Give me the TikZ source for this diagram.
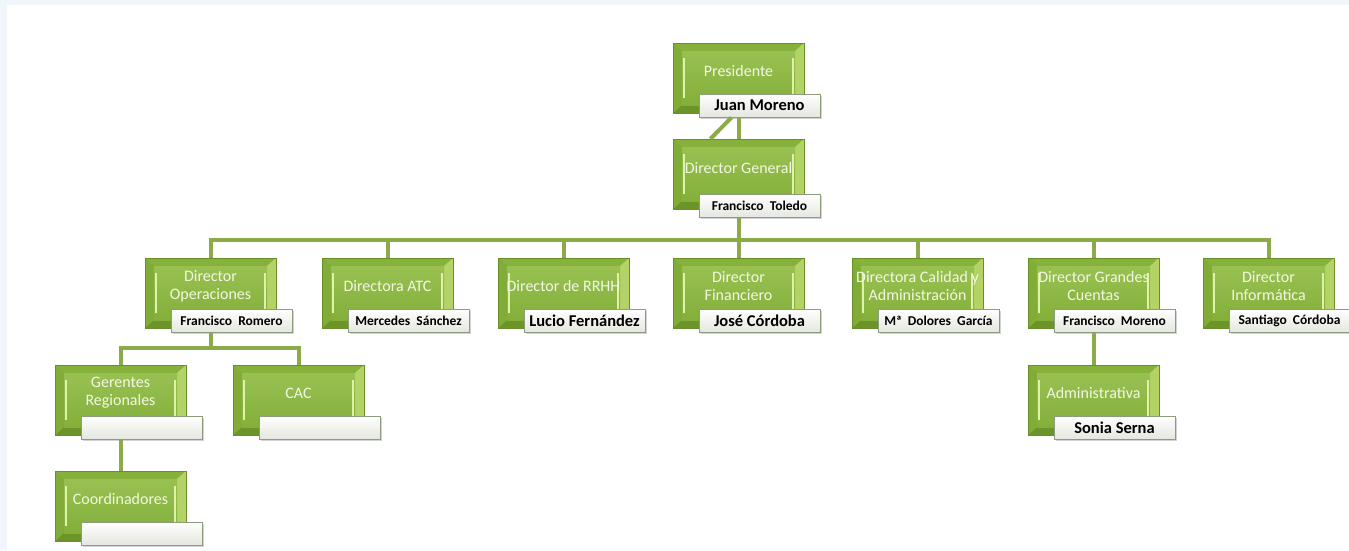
\documentclass[tikz,border=0pt]{standalone}
\usepackage{fontspec}
\setmainfont{Carlito}
\usetikzlibrary{shadows}

\begin{document}
\begin{tikzpicture}[x=1pt, y=-1pt,
    linea/.style={line width=4pt, color=my-line},
    cargo/.style={minimum width=131, minimum height=70, inner sep=0pt,
      fill=my-green, draw=my-dark, line width=0.5pt,
      path picture={
        \path (path picture bounding box.north west) coordinate (nw)
              (path picture bounding box.north east) coordinate (ne)
              (path picture bounding box.south west) coordinate (sw)
              (path picture bounding box.south east) coordinate (se)
              ([shift={(9pt,-8pt)}]nw) coordinate (inw)
              ([shift={(-9pt,-8pt)}]ne) coordinate (ine)
              ([shift={(9pt,8pt)}]sw) coordinate (isw)
              ([shift={(-9pt,8pt)}]se) coordinate (ise);
        \fill[my-top] (nw) -- (ne) -- (ine) -- (inw) -- cycle;
        \fill[my-bottom] (sw) -- (se) -- (ise) -- (isw) -- cycle;
        \fill[my-left] (nw) -- (sw) -- (isw) -- (inw) -- cycle;
        \fill[my-right] (ne) -- (se) -- (ise) -- (ine) -- cycle;
        \shade[top color=my-face1, bottom color=my-face2] (inw) rectangle (ise);
        \draw[my-shine, line width=1.5pt] ([shift={(2pt,-7pt)}]inw) -- ([shift={(2pt,7pt)}]isw);
        \draw[my-shine, line width=1.5pt] ([shift={(-2pt,-7pt)}]ine) -- ([shift={(-2pt,7pt)}]ise);
      }},
    titulo/.style={align=center, text=my-text, inner sep=0pt,
      font=\fontsize{16}{18}\selectfont},
    persona/.style={draw=my-border, line width=1pt, top color=white, bottom color=my-grey,
      minimum width=121, minimum height=23, inner sep=0pt, text=black,
      drop shadow={shadow xshift=1.5pt, shadow yshift=-1.5pt, opacity=0.35},
      font=\bfseries\fontsize{13.5}{15}\selectfont},
    grande/.style={persona, font=\bfseries\fontsize{16.5}{18}\selectfont}]
  \definecolor{my-green}{HTML}{7FAA36}
  \definecolor{my-dark}{HTML}{6A8F2A}
  \definecolor{my-top}{HTML}{86B23C}
  \definecolor{my-bottom}{HTML}{6B9529}
  \definecolor{my-left}{HTML}{80AC37}
  \definecolor{my-right}{HTML}{B3D366}
  \definecolor{my-face1}{HTML}{98C152}
  \definecolor{my-face2}{HTML}{84AF3A}
  \definecolor{my-shine}{HTML}{E0F1A8}
  \definecolor{my-text}{HTML}{F3F8E2}
  \definecolor{my-line}{HTML}{8DAA4A}
  \definecolor{my-border}{HTML}{8E9C7E}
  \definecolor{my-grey}{HTML}{E4E7DF}
  \definecolor{my-back}{HTML}{F1F6FC}
  \def\puesto#1#2#3#4#5{
    \node[cargo] (#1) at (#2) {};
    \node[titulo] (#1-t) at ([yshift=7pt]#1.center) {#3};
    \node[#4] (#1-n) at ([shift={(21,27.5)}]#1.center) {#5};
  }

  \useasboundingbox (0,0) rectangle (1349,550);
  \fill[my-back] (0,0) rectangle (1349,550);
  \fill[white] (7,5) rectangle (1349,550);

  % cabecera
  \puesto{pres}{738.5,78}{Presidente}{grande}{Juan Moreno}
  \node[cargo] (dg) at (738.5,174) {};
  \node[titulo] (dg-t) at ([yshift=6pt]dg.center) {Director General};
  \node[persona] (dg-n) at ([shift={(21,32)}]dg.center) {Francisco~~Toledo};

  % directores
  \puesto{ops}{210.5,293}{Director\\Operaciones}{persona}{Francisco~~Romero}
  \puesto{atc}{387.5,293}{Directora ATC}{persona}{Mercedes~~Sánchez}
  \puesto{rrhh}{563.5,293}{Director de RRHH}{grande}{Lucio Fernández}
  \puesto{fin}{738.5,293}{Director\\Financiero}{grande}{José Córdoba}
  \puesto{cal}{917.5,293}{Directora Calidad y\\Administración}{persona}{Mª~~Dolores~~García}
  \puesto{gc}{1093.5,293}{Director Grandes\\Cuentas}{persona}{Francisco~~Moreno}
  \puesto{inf}{1268.5,293}{Director\\Informática}{persona}{Santiago~~Córdoba}

  % tercer nivel
  \puesto{ger}{120.5,400}{Gerentes\\Regionales}{persona}{}
  \puesto{cac}{298.5,400}{CAC}{persona}{}
  \puesto{adm}{1093.5,400}{Administrativa}{grande}{Sonia Serna}
  \puesto{coor}{120.5,506}{Coordinadores}{persona}{}

  % lineas
  \coordinate (bus) at (0,240);
  \coordinate (bus2) at (0,348);
  \draw[linea] (pres.center |- pres-n.south) -- (dg.north);
  \draw[linea] ([xshift=33pt]pres-n.south west) -- ([xshift=-28pt]dg.north);
  \foreach \n in {ops,atc,rrhh,fin,cal,gc,inf}
    \draw[linea] (dg.center |- dg-n.south) -- (dg.center |- bus) -| (\n.north);
  \foreach \n in {ger,cac}
    \draw[linea] (ops.center |- ops-n.south) -- (ops.center |- bus2) -| (\n.north);
  \draw[linea] (ger.center |- ger-n.south) -- (coor.north);
  \draw[linea] (gc.center |- gc-n.south) -- (adm.north);
\end{tikzpicture}
\end{document}
